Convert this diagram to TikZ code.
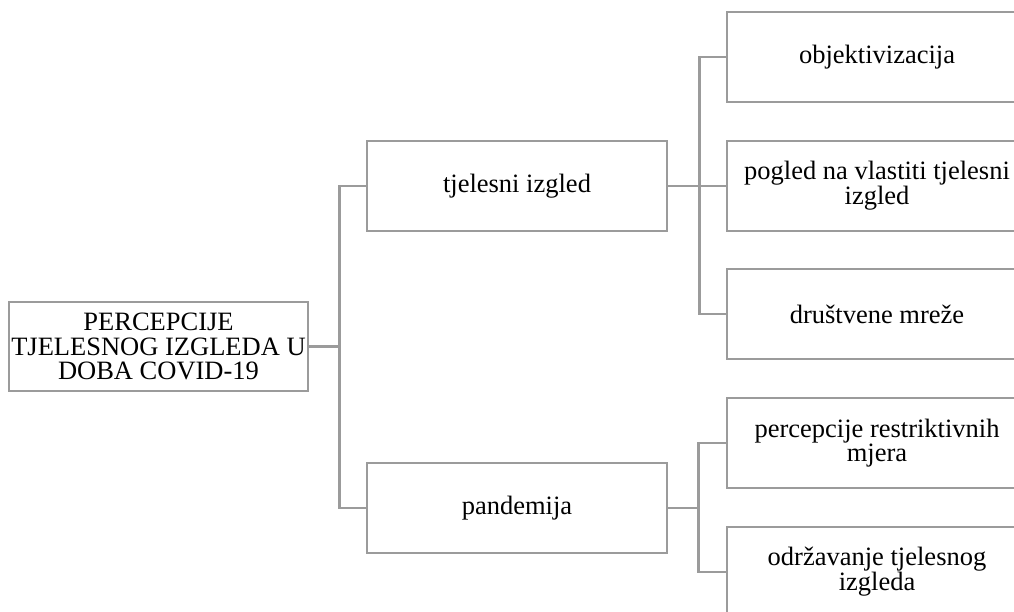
\documentclass[tikz,border=0pt]{standalone}
\usepackage{fontspec}
\setmainfont{Liberation Serif}
\definecolor{linegray}{HTML}{9B9B9B}
\begin{document}
\begin{tikzpicture}[x=1pt,y=1pt,
  boxnode/.style={draw=linegray, line width=2.5pt, fill=white, minimum width=300pt, minimum height=90pt, inner sep=0pt, align=center, font=\fontsize{26.5}{22}\selectfont},
  conn/.style={draw=linegray, line width=2.5pt}]
\useasboundingbox (0,0) rectangle (1014,612);
\clip (0,0) rectangle (1014,612);
\node[boxnode, minimum width=299pt, minimum height=89pt, font=\fontsize{26.5}{24.5}\selectfont] (root) at (158.5,265.5) {PERCEPCIJE\\TJELESNOG IZGLEDA U\\DOBA COVID-19};
\node[boxnode] (tj) at (517,426) {tjelesni izgled};
\node[boxnode] (pan) at (517,104) {pandemija};
\node[boxnode] (obj) at (877,555) {objektivizacija};
\node[boxnode] (pog) at (877,426) {pogled na vlastiti tjelesni\\izgled};
\node[boxnode] (dru) at (877,298) {društvene mreže};
\node[boxnode] (per) at (877,169) {percepcije restriktivnih\\mjera};
\node[boxnode] (odr) at (877,40) {održavanje tjelesnog\\izgleda};
\draw[conn] (root.east) -- ++(30,0) coordinate (t1) |- (tj.west);
\draw[conn] (t1) |- (pan.west);
\draw[conn] (tj.east) -- ++(31,0) coordinate (t2) |- (obj.west);
\draw[conn] (t2) -- (pog.west);
\draw[conn] (t2) |- (dru.west);
\draw[conn] (pan.east) -- ++(30,0) coordinate (t3) |- (per.west);
\draw[conn] (t3) |- (odr.west);
\end{tikzpicture}
\end{document}
